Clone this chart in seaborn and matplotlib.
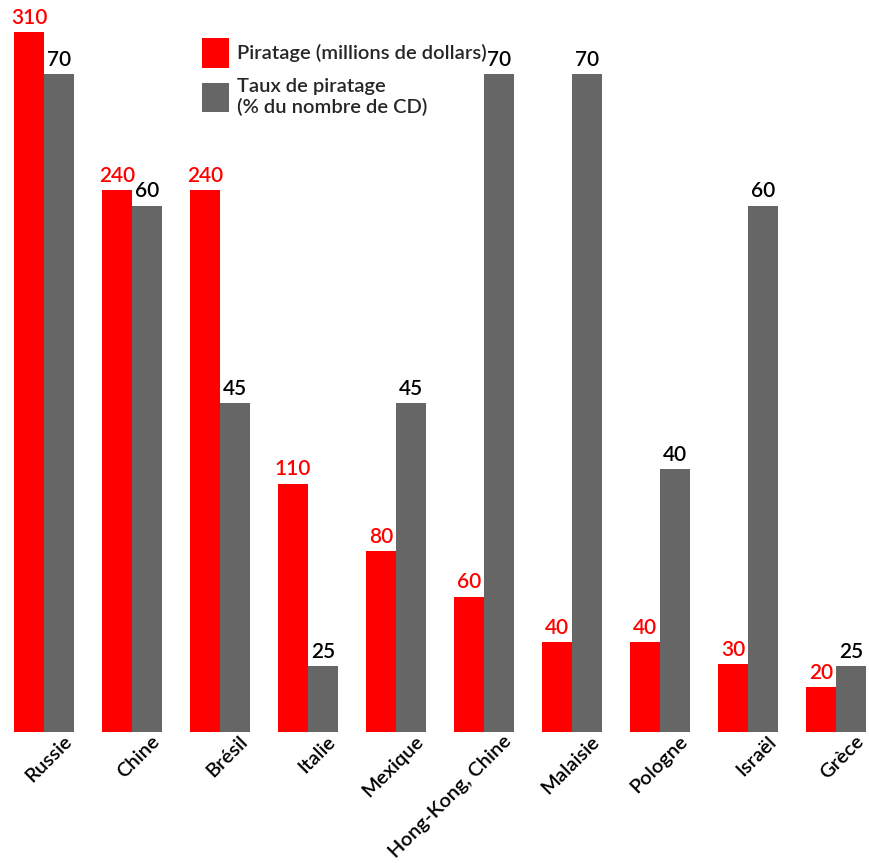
import matplotlib
matplotlib.use("Agg")
import matplotlib.pyplot as plt
import matplotlib.transforms as mtransforms
from matplotlib.patches import Patch
import pandas as pd
import seaborn as sns

# Data
pays = ["Russie", "Chine", "Brésil", "Italie", "Mexique", "Hong-Kong, Chine",
        "Malaisie", "Pologne", "Israël", "Grèce"]
piratage_millions = [310, 240, 240, 110, 80, 60, 40, 40, 30, 20]
taux_piratage = [70, 60, 45, 25, 45, 70, 70, 40, 60, 25]

label_red = "Piratage (millions de dollars)"
label_gray = "Taux de piratage\n(% du nombre de CD)"
series_order = ["red", "gray"]

RED = "#ff0000"
GRAY = "#666666"

sns.set_theme(style="white")
plt.rcParams["font.family"] = ["Lato", "DejaVu Sans"]
plt.rcParams["font.weight"] = 600

df_red = pd.DataFrame({"pays": pays, "valeur": piratage_millions, "serie": "red"})
df_gray = pd.DataFrame({"pays": pays, "valeur": taux_piratage, "serie": "gray"})

fig = plt.figure(figsize=(8.69, 8.63), dpi=100)
ax = fig.add_axes([0.0, 1 - 732 / 863, 1.0, 712 / 863])
ax2 = ax.twinx()

pal = {"red": RED, "gray": GRAY}
sns.barplot(data=df_red, x="pays", y="valeur", hue="serie", hue_order=series_order,
            palette=pal, width=0.68, dodge=True, errorbar=None,
            saturation=1, legend=False, ax=ax, order=pays, linewidth=0)
sns.barplot(data=df_gray, x="pays", y="valeur", hue="serie", hue_order=series_order,
            palette=pal, width=0.68, dodge=True, errorbar=None,
            saturation=1, legend=False, ax=ax2, order=pays, linewidth=0)

# two independent scales: the rate axis starts at 20 at the baseline
ax.set_ylim(0, 315.3)
ax2.set_ylim(20, 74.1)
ax.set_xlim(-0.5, 9.375)

for c in ax.containers:
    ax.bar_label(c, color=RED, fontsize=15, padding=3)
for c in ax2.containers:
    ax2.bar_label(c, color="black", fontsize=15, padding=3)

for a in (ax, ax2):
    for s in a.spines.values():
        s.set_visible(False)
    a.set_yticks([])
    a.set_ylabel("")
    a.set_xlabel("")

ax.tick_params(axis="x", length=0, pad=4)
ax.set_xticks(range(len(pays)))
ax.set_xticklabels(pays, rotation=45, ha="right", va="center",
                   rotation_mode="anchor", fontsize=14.5, color="black")
offset = mtransforms.ScaledTranslation(0.25, -0.01, fig.dpi_scale_trans)
for lbl in ax.get_xticklabels():
    lbl.set_transform(lbl.get_transform() + offset)
ax2.tick_params(axis="x", labelbottom=False, length=0)

handles = [Patch(facecolor=RED, edgecolor="none"), Patch(facecolor=GRAY, edgecolor="none")]
fig.legend(handles, [label_red, label_gray], loc="upper left",
           bbox_to_anchor=(188 / 869, 1 - 24 / 863), frameon=False, fontsize=14.5,
           handlelength=1.35, handleheight=1.9, handletextpad=0.4, labelspacing=0.5,
           borderpad=0.2)

fig.savefig("out.png", dpi=100, facecolor="white")
